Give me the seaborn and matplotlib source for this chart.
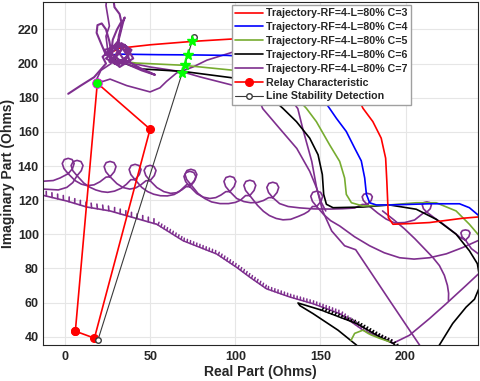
import matplotlib
matplotlib.use('Agg')
import matplotlib.pyplot as plt
import matplotlib.patheffects as pe
from matplotlib.lines import Line2D
import seaborn as sns

#==================================== DATA (Ohms) ====================================
# trajectories C=3..C=6
c3_x = [28, 32, 50, 75, 100, 130, 150, 160, 168, 175, 180.8, 185.7, 188.3, 189.0, 189.5, 189.9, 192.6, 202.3, 214.1, 233.4, 243]
c3_y = [207, 209, 211, 213, 214.5, 215, 213, 206, 188, 173.8, 166, 156.3, 144.6, 131.1, 119.5, 109.8, 105.9, 106.3, 106.9, 109.4, 110.2]

c4_x = [26, 33, 55, 72.5, 95, 110, 130, 145, 151, 155.4, 159.4, 165.2, 170.1, 174, 176, 177, 178.9, 182.8, 190.6, 214.1, 231.7, 237.5, 243]
c4_y = [205, 205.5, 205.2, 205.1, 204.8, 204, 200, 190, 180, 173.7, 167.9, 160.2, 150.5, 143, 133, 123.4, 118.5, 117.2, 117.2, 117.9, 117.9, 115.6, 111]

c5_x = [27, 42, 69.4, 98.7, 115, 128, 136, 141.8, 147.6, 155.4, 161.3, 164.2, 165.2, 168.2, 175, 190.6, 206.3, 218, 229.7, 237.5, 243]
c5_y = [202, 200.3, 199, 196.1, 193, 187, 180, 173.7, 166, 152.4, 142.7, 133, 123.4, 118.5, 116.6, 117.2, 118.5, 118.5, 113.7, 105.9, 99.5]
c5_tail_x = [168, 170.1, 175, 178, 180, 184.8, 190.6]
c5_tail_y = [38, 42, 43.9, 42, 41, 39.1, 37.1]

c6_x = [27, 44, 69.4, 98.7, 110, 120, 128, 135.9, 143.7, 148.6, 151.1, 151.9, 153.5, 157.4, 175, 190.6, 206.3, 218, 229.7,
        237.5, 242.2, 243.5, 243, 240.5, 235.6, 227.7, 219.9, 215]
c6_y = [203, 196.9, 195.4, 191.6, 188, 181, 173.7, 166, 156.3, 146.6, 135, 123.4, 117.6, 115.6, 116, 117.2, 114.7, 108.8, 100.1,
        90.4, 82.8, 75, 68, 62, 57.4, 47.8, 35.2, 29]
c6_tail_x = [195, 192.6, 184.8, 171.1, 150, 136.8, 138, 145.6, 160.3, 171.1, 174]
c6_tail_y = [34, 36.2, 40, 47.8, 55.8, 59.8, 58.2, 53.6, 43.9, 35.2, 32]

# trajectory C=7, drawn as several pieces
c7_tangle_x = [1.8, 9, 17, 24, 22, 30, 38, 31, 24, 33, 39, 34, 26, 28, 36, 40, 32, 25, 31, 37, 29, 23, 35, 38, 27, 33,
               30, 27, 26, 24, 21, 18.5, 19, 21.5, 24, 26, 27, 29, 31, 31.5, 33.5, 35, 34, 32, 30, 34, 44, 52.8, 45, 38,
               32, 27, 28, 30.5, 33, 32, 29, 28.2]
c7_tangle_y = [182.3, 187, 192, 200, 204, 211, 206, 199, 203, 212, 208, 200, 201, 210, 210, 203, 198, 206, 213, 204, 200,
               208, 211, 201, 202, 208, 204, 201, 206, 205, 212, 218, 222.5, 223.5, 220, 213, 207, 203, 208, 216, 224,
               227, 224, 216, 209, 203, 197.4, 193.4, 196, 199, 202, 206, 214, 220, 224.5, 229, 233, 238.7]
c7_rise_x = [24.5, 24, 25, 26, 24, 25, 27, 21, 18.6, 22, 26.4, 36.2, 49.9, 55.7, 59.6, 65.5, 75.1, 83.3, 98.5, 105.6,
             117.3, 126.1, 132, 136.7, 139.6, 144.9, 147.8, 151.3, 156.6, 164.2, 170.7, 178.9, 190.6, 208.2, 211]
c7_rise_y = [238.7, 234, 228, 222, 216, 208, 200, 196, 191, 189.5, 190.9, 187.1, 183.4, 185.8, 189.6, 194.5, 198, 202,
             206.7, 208.4, 200.9, 190, 180, 173.6, 161.9, 142.7, 127, 113.7, 102, 93.3, 91, 78.8, 61.3, 35.2, 31]
c7_flat_x = [32.3, 49.9, 69.2, 79.2, 98.5, 108.5, 114.4, 116.1, 126.1, 136.1, 143.7, 147.8, 150.1, 153.1]
c7_flat_y = [201.5, 198, 195.1, 192.2, 187.3, 183.4, 177.6, 173.6, 161.9, 150.3, 136.9, 127, 119.5, 113.7]

c7_loopsU_x = [-12.9, -7, -3, 1.8, 4.3, 5.3, 4.1, 1.8, -0.5, -1.7, -0.7, 1.8, 5.8, 9.5, 13, 17, 20.5, 24,
               26.4, 28.9, 29.9, 28.7, 26.4, 24.1, 22.9, 23.9, 26.4, 30.4, 34, 38, 41.5, 44.5, 47.5,
               49.9, 52.4, 53.4, 52.2, 49.9, 47.6, 46.4, 47.4, 49.9, 53.9, 58, 62, 65.5, 68.5, 71,
               73.3, 75.8, 76.8, 75.6, 73.3, 71, 69.8, 70.8, 73.3, 77.3, 81, 85, 88.5, 91.5, 94.4,
               96.8, 99.3, 100.3, 99.1, 96.8, 94.5, 93.3, 94.3, 96.8, 100.8, 105, 109, 113, 116.5, 119.6,
               122, 124.5, 125.5, 124.3, 122, 119.7, 118.5, 119.5, 122, 126, 131, 137.8, 146, 155.4, 163, 170.1, 174.5,
               177.5, 179.8, 180.5, 179.5, 177.5, 175.5, 174.5, 175.2, 177.5, 183.6, 188.5, 193.5, 199.5, 205.3, 210.5,
               212.5, 214.5, 215.2, 214.3, 212.5, 210.7, 209.8, 210.5, 212.5, 217, 221.5, 225.8, 229.5, 232,
               235.2, 237.2, 237.9, 237, 235.2, 233.4, 232.5, 233.2, 235.2, 238.7, 243.4]
c7_loopsU_y = [131.1, 131.5, 133, 135.5, 138.5, 141.5, 143.8, 144.5, 143.8, 141.5, 138.5, 135.5, 131.5, 129.4, 128.5, 129, 130.8, 133.5,
               133.7, 136.7, 139.7, 142, 142.7, 142, 139.7, 136.7, 133.7, 129.7, 127.4, 126.5, 127.2, 129, 131.4,
               131.4, 134.4, 137.4, 139.7, 140.4, 139.7, 137.4, 134.4, 131.4, 127.4, 125, 124, 124.4, 126, 127.9,
               127.9, 130.9, 133.9, 136.2, 136.9, 136.2, 133.9, 130.9, 127.9, 123.9, 121.8, 121, 121.5, 123, 125,
               125, 128, 131, 133.3, 134, 133.3, 131, 128, 125, 121, 119.2, 118.5, 118.7, 119.8, 121.5,
               121.5, 124.5, 127.5, 129.8, 130.5, 129.8, 127.5, 124.5, 121.5, 118, 116.3, 115.5, 114.9, 114.8, 115, 115.4, 117.5,
               117.5, 119.8, 122, 123.5, 124, 123.5, 122, 119.8, 117.5, 112.5, 109, 106.7, 106.9, 108.4, 112.5,
               113, 115, 117.3, 118.6, 119, 118.6, 117.3, 115, 113, 109.6, 106.5, 103.2, 100.3, 98.2,
               96.6, 98.6, 100.9, 102.2, 102.6, 102.2, 100.9, 98.6, 96.6, 91.6, 88.1]
c7_loopsL_x = [-12.9, -4, 1, 4.5,
               7, 9.5, 10.5, 9.3, 7, 4.7, 3.5, 4.5, 7, 11, 14.5, 18, 21.5, 25, 29, 33, 36, 38.6,
               41.1, 43.6, 44.6, 43.4, 41.1, 38.8, 37.6, 38.6, 41.1, 45, 48.5, 52, 56, 60, 64, 67, 71.4,
               73.9, 76.4, 77.4, 76.2, 73.9, 71.6, 70.4, 71.4, 73.9, 78, 82, 86, 91, 96, 100, 103, 106,
               108.5, 111, 112, 110.8, 108.5, 106.2, 105, 106, 108.5, 113, 116.5, 120, 124, 128, 132.5, 137, 140.5, 143, 145.3,
               147.8, 150.3, 151.3, 150.1, 147.8, 145.5, 144.3, 145.3, 147.8, 152, 156, 161.3, 170, 178.9, 187.5,
               196.5, 205, 214.1, 224, 233.4, 243]
c7_loopsL_y = [126.5, 126, 127.5, 130.3,
               134.3, 137.3, 140.3, 142.6, 143.3, 142.6, 140.3, 137.3, 134.3, 130, 127.6, 126, 125, 124.6, 125.3, 127, 129.3, 132,
               132, 135, 138, 140.3, 141, 140.3, 138, 135, 132, 127.5, 125, 123.5, 122.6, 122.5, 123.3, 125, 129.1,
               129.1, 132.1, 135.1, 137.4, 138.1, 137.4, 135.1, 132.1, 129.1, 124, 121, 119, 118, 118, 118.7, 120, 122.7,
               122.7, 125.7, 128.7, 131, 131.7, 131, 128.7, 125.7, 122.7, 117, 113.5, 111, 109.3, 108.5, 108.8, 110.5, 112, 113.5, 116.3,
               116.3, 119.3, 122.3, 124.6, 125.3, 124.6, 122.3, 119.3, 116.3, 111.5, 108, 104.9, 98.6, 93.3, 89.2,
               86.3, 85.5, 86.3, 88.6, 92.2, 96.5]
c7_arc_x = [186.5, 193, 199.4, 205.5, 211.1, 216, 219.9, 222.8, 224.6, 225.3, 225.2]
c7_arc_y = [113.7, 108.6, 103.2, 97.4, 91.6, 86.5, 81.7, 76, 70.1, 65.5, 61.3]

c7_wave_x = [-12.7, 1, 12.7, 26.4, 40.1, 53.8, 69.4, 89, 100.7, 108.5, 118.3, 132, 145.6, 161.3, 175, 192.6]
c7_wave_y = [122.8, 119.5, 116, 113.7, 109.8, 105.9, 96.2, 88.5, 80.7, 74.9, 68.1, 63.3, 59.4, 53.6, 43.9, 36.2]
c7_back_x = [192.6, 202.3, 214.1, 223.9, 235.6, 243]
c7_back_y = [36.2, 40.9, 50.7, 59.4, 70.1, 77]

# relay characteristic polygon and line stability detection
relay_x = [6.0, 17.2, 49.9, 18.9, 6.0]
relay_y = [43.3, 39.2, 161.6, 188.5, 43.3]
lsd_x = [19.2, 75.5]
lsd_y = [37.9, 215.8]
star_x = [74.6, 72.1, 70.2, 68.8]
star_y = [213.1, 205.1, 199.0, 194.7]

labels = ['Trajectory-RF=4-L=80% C=3', 'Trajectory-RF=4-L=80% C=4', 'Trajectory-RF=4-L=80% C=5',
          'Trajectory-RF=4-L=80% C=6', 'Trajectory-RF=4-L=80% C=7', 'Relay Characteristic', 'Line Stability Detection']

#==================================== STYLE ====================================
RED, BLUE, GREEN, BLACK, PURPLE = '#ff0000', '#0000ff', '#77ac30', '#000000', '#7e2f8e'

sns.set_style('whitegrid', {'grid.color': '#e6e6e6', 'axes.edgecolor': '#262626'})
plt.rcParams['font.family'] = ['Liberation Sans', 'DejaVu Sans']
plt.rcParams['font.weight'] = 'bold'

fig = plt.figure(figsize=(4.8, 3.81), dpi=100)
ax = fig.add_axes([0.0896, 0.0945, 0.906, 0.900])

def trace(x, y, color, lw=1.2, **kw):
    sns.lineplot(x=x, y=y, sort=False, estimator=None, color=color, linewidth=lw, ax=ax, **kw)

trace(c7_loopsU_x, c7_loopsU_y, PURPLE)
trace(c7_loopsL_x, c7_loopsL_y, PURPLE)
trace(c7_arc_x, c7_arc_y, PURPLE)
# ripple on the lower C=7 branch
ax.plot(c7_wave_x[:6], c7_wave_y[:6], color=PURPLE, lw=1.2,
        path_effects=[pe.withTickedStroke(spacing=4.2, angle=105, length=0.8)])
ax.plot(c7_wave_x[5:], c7_wave_y[5:], color=PURPLE, lw=1.1,
        path_effects=[pe.withTickedStroke(spacing=2.4, angle=105, length=0.9)])
trace(c7_back_x, c7_back_y, PURPLE)
trace(c7_rise_x, c7_rise_y, PURPLE)
trace(c7_flat_x, c7_flat_y, PURPLE)
trace(c6_x, c6_y, BLACK)
ax.plot(c6_tail_x[:5], c6_tail_y[:5], color=BLACK, lw=1.1,
        path_effects=[pe.withTickedStroke(spacing=2.4, angle=-100, length=0.8)])
trace(c6_tail_x[4:], c6_tail_y[4:], BLACK)
trace(c5_x, c5_y, GREEN)
trace(c5_tail_x, c5_tail_y, GREEN)
trace(c4_x, c4_y, BLUE)
trace(c3_x, c3_y, RED)
trace(c7_tangle_x, c7_tangle_y, PURPLE, lw=1.5)

ax.plot(relay_x, relay_y, color=RED, lw=1.2, marker='o', markersize=5.5)
ax.plot(lsd_x, lsd_y, color='#3a3a3a', lw=0.8, marker='o', markersize=4, markerfacecolor='white')
ax.plot(relay_x[3], relay_y[3], 'o', color='#00ff00', markeredgecolor='#ff00ff', markersize=7, markeredgewidth=0.6)
ax.plot(star_x, star_y, '*', color='#00ff00', markersize=8, ls='none')

ax.set_xlim(-13, 242.5)
ax.set_ylim(35.2, 236)
ax.set_xticks([0, 50, 100, 150, 200])
ax.set_yticks(range(40, 221, 20))
ax.tick_params(direction='in', length=3, labelsize=9, colors='#262626')
ax.tick_params(axis='x', pad=4)
ax.tick_params(axis='y', pad=3)
for lab in ax.get_xticklabels() + ax.get_yticklabels():
    lab.set_fontweight('bold')
ax.set_xlabel('Real Part (Ohms)', fontsize=10, fontweight='bold', labelpad=2)
ax.set_ylabel('Imaginary Part (Ohms)', fontsize=10, fontweight='bold', labelpad=2)
for s in ax.spines.values():
    s.set_linewidth(0.8)

handles = [Line2D([], [], color=c, lw=1.2) for c in (RED, BLUE, GREEN, BLACK, PURPLE)]
handles.append(Line2D([], [], color=RED, lw=1.2, marker='o', markersize=5.5))
handles.append(Line2D([], [], color='#3a3a3a', lw=0.8, marker='o', markersize=4, markerfacecolor='white'))
leg = ax.legend(handles, labels, loc='upper left', bbox_to_anchor=(0.434, 0.991), borderaxespad=0,
                fancybox=False, framealpha=1, edgecolor='#a0a0a0', fontsize=7.7, handlelength=2.6,
                labelspacing=0.36, borderpad=0.3, handletextpad=0.3)
for t in leg.get_texts():
    t.set_fontweight('bold')

fig.savefig('out.png', dpi=100)
